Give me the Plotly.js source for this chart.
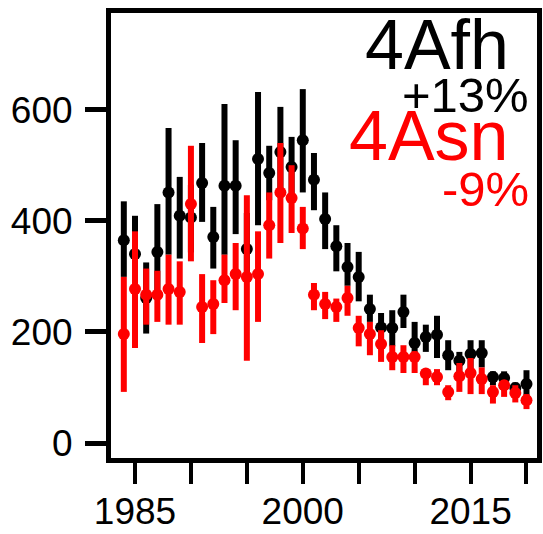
<!DOCTYPE html>
<html>
<head>
<meta charset="utf-8">
<script src="https://cdn.plot.ly/plotly-3.0.1.min.js"></script>
<style>
  html, body { margin: 0; padding: 0; background: #fff; }
  #chart { width: 543px; height: 534px; }
</style>
</head>
<body>
<div id="chart"></div>
<script>
// survey years
var years = [1984, 1985, 1986, 1987, 1988, 1989, 1990, 1991, 1992, 1993,
             1994, 1995, 1996, 1997, 1998, 1999, 2000, 2001, 2002, 2003,
             2004, 2005, 2006, 2007, 2008, 2009, 2010, 2011, 2012, 2013,
             2014, 2015, 2016, 2017, 2018, 2019, 2020];

// 4Afh (black): index, lower and upper bound
var afh = [365, 340, 261, 344, 451, 409, 406, 468, 371, 463,
           463, 349, 511, 486, 524, 497, 545, 474, 403, 354,
           317, 299, 241, 208, 207, 236, 180, 191, 195, 158,
           148, 160, 162, 119, 117, 99, 106];
var afhLo = [299, 271, 197, 259, 339, 332, 343, 398, 314, 339,
             376, 292, 392, 437, 442, 448, 451, 419, 349, 309,
             283, 255, 218, 180, 174, 207, 150, 164, 153, 131,
             124, 134, 136, 104, 101, 89, 84];
var afhHi = [435, 409, 325, 430, 567, 479, 465, 540, 425, 610,
             545, 414, 632, 535, 605, 551, 637, 522, 451, 392,
             360, 344, 267, 234, 239, 267, 218, 213, 229, 185,
             164, 185, 185, 129, 129, 109, 131];

// 4Asn (red)
var asn = [196, 277, 267, 267, 277, 272, 430, 245, 250, 293,
           304, 299, 304, 392, 451, 441, 386, 267, 250, 245,
           261, 207, 196, 178, 155, 155, 155, 125, 119, 92,
           120, 126, 115, 92, 104, 90, 77];
var asnLo = [92, 171, 213, 218, 213, 213, 327, 180, 196, 252,
             239, 148, 218, 332, 360, 378, 349, 239, 223, 218,
             229, 174, 158, 146, 131, 126, 126, 104, 104, 77,
             92, 88, 88, 71, 83, 73, 61];
var asnHi = [299, 381, 314, 310, 339, 327, 535, 304, 293, 339,
             360, 446, 381, 451, 540, 500, 425, 288, 272, 260,
             283, 229, 218, 203, 176, 176, 165, 133, 133, 104,
             144, 153, 136, 104, 113, 104, 88];

var tickYears = [1985, 1990, 1995, 2000, 2005, 2010, 2015, 2020];
var tickLabels = ['1985', '', '', '2000', '', '', '2015', ''];
var yTicks = [0, 200, 400, 600];

function series(y, lo, hi, col) {
    return {
        x: years, y: y,
        mode: 'markers',
        type: 'scatter',
        marker: {color: col, size: 12, symbol: 'circle'},
        error_y: {
            type: 'data',
            symmetric: false,
            array: hi.map(function (h, i) { return h - y[i]; }),
            arrayminus: lo.map(function (l, i) { return y[i] - l; }),
            color: col,
            thickness: 6,
            width: 0
        },
        hoverinfo: 'x+y'
    };
}

var data = [
    series(afh, afhLo, afhHi, '#000000'),
    series(asn, asnLo, asnHi, '#ff0000')
];

var font = {family: 'Liberation Sans, Arial, sans-serif', size: 37, color: '#000000'};

var layout = {
    width: 543,
    height: 534,
    showlegend: false,
    paper_bgcolor: '#ffffff',
    plot_bgcolor: '#ffffff',
    margin: {l: 111, r: 6, t: 13, b: 76},
    font: font,
    xaxis: {
        range: [1982.855, 2020.94],
        tickvals: tickYears,
        ticktext: tickLabels,
        ticks: 'outside',
        ticklen: 21,
        tickwidth: 4,
        tickcolor: '#000000',
        ticklabelstandoff: -4,
        showline: true,
        mirror: true,
        linewidth: 5,
        linecolor: '#000000',
        showgrid: false,
        zeroline: false,
        tickfont: font
    },
    yaxis: {
        range: [-27, 774],
        tickvals: yTicks,
        ticks: 'outside',
        ticklen: 21,
        tickwidth: 5,
        tickcolor: '#000000',
        ticklabelstandoff: 5,
        showline: true,
        mirror: true,
        linewidth: 5,
        linecolor: '#000000',
        showgrid: false,
        zeroline: false,
        tickfont: font
    },
    annotations: [
        {text: '4Afh', xref: 'paper', yref: 'paper', x: 0.940, y: 0.929,
         xanchor: 'right', yanchor: 'middle', showarrow: false,
         font: {family: font.family, size: 70, color: '#000000'}},
        {text: '+13%', xref: 'paper', yref: 'paper', x: 0.985, y: 0.816,
         xanchor: 'right', yanchor: 'middle', showarrow: false,
         font: {family: font.family, size: 49, color: '#000000'}},
        {text: '4Asn', xref: 'paper', yref: 'paper', x: 0.940, y: 0.723,
         xanchor: 'right', yanchor: 'middle', showarrow: false,
         font: {family: font.family, size: 70, color: '#ff0000'}},
        {text: '-9%', xref: 'paper', yref: 'paper', x: 0.985, y: 0.604,
         xanchor: 'right', yanchor: 'middle', showarrow: false,
         font: {family: font.family, size: 49, color: '#ff0000'}}
    ]
};

Plotly.newPlot('chart', data, layout, {displayModeBar: false, staticPlot: true});
</script>
</body>
</html>
